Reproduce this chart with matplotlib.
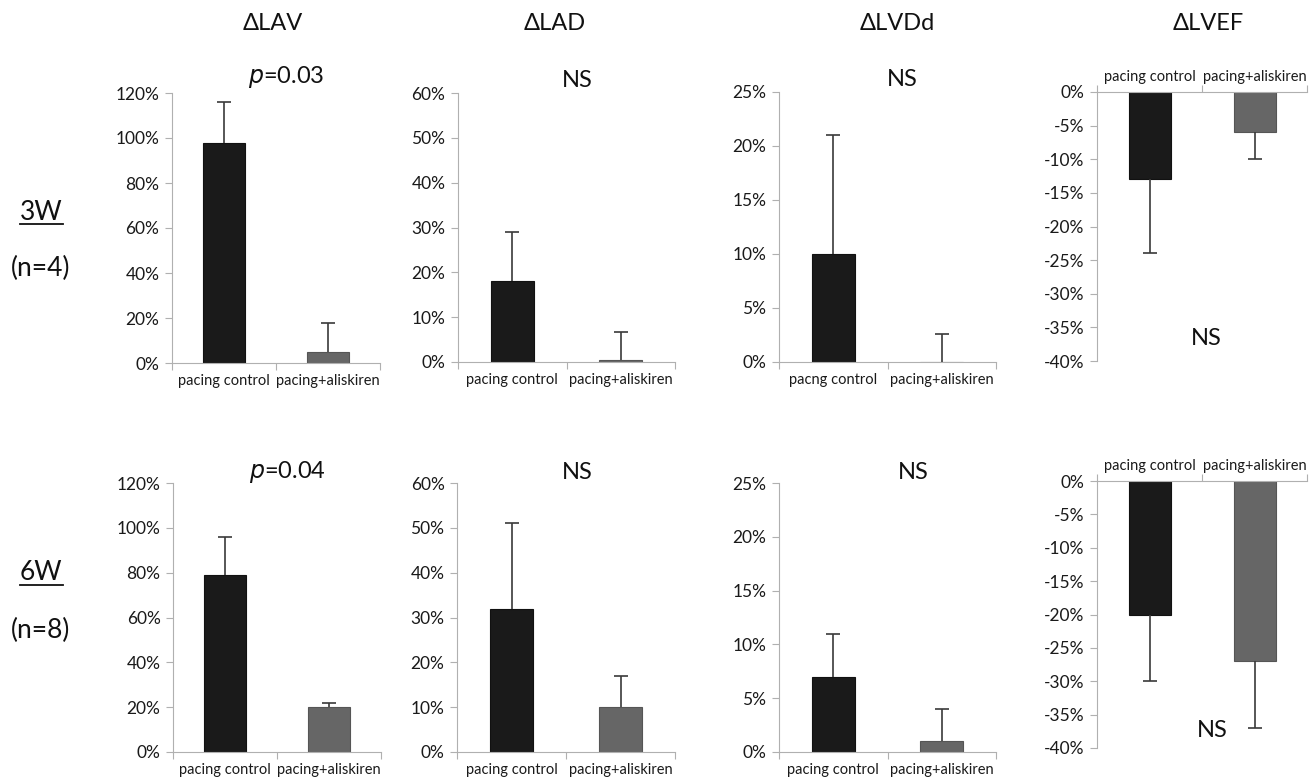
import matplotlib
matplotlib.use("Agg")
import matplotlib.pyplot as plt
import numpy as np
from matplotlib.lines import Line2D

plt.rcParams['font.family'] = ['Lato', 'DejaVu Sans']

groups = ["pacing control", "pacing+aliskiren"]
groups_lvdd_3w = ["pacng control", "pacing+aliskiren"]   # typo kept from the original

# mean change (%) and one-sided SD for each panel
lav_3w = [98, 5]
lav_3w_err = [18, 13]
lad_3w = [18, 0.5]
lad_3w_err = [11, 6.2]
lvdd_3w = [10, 0]
lvdd_3w_err = [11, 2.6]
lvef_3w = [-13, -6]
lvef_3w_err = [11, 4]

lav_6w = [79, 20]
lav_6w_err = [17, 2]
lad_6w = [32, 10]
lad_6w_err = [19, 7]
lvdd_6w = [7, 1]
lvdd_6w_err = [4, 3]
lvef_6w = [-20, -27]
lvef_6w_err = [10, 10]

titles = ["ΔLAV", "ΔLAD", "ΔLVDd", "ΔLVEF"]
stats_3w = ["$p$=0.03", "NS", "NS", "NS"]
stats_6w = ["$p$=0.04", "NS", "NS", "NS"]

W, H = 1316, 782
fig = plt.figure(figsize=(W / 100, H / 100), dpi=100)

bar_colors = ["#1a1a1a", "#666666"]
edge_colors = ["#111111", "#555555"]
spine_col = "#b0b0b0"
err_col = "#3a3a3a"


def px_axes(x0, x1, ytop, ybot):
    return fig.add_axes([x0 / W, (H - ybot) / H, (x1 - x0) / W, (ybot - ytop) / H])


def panel(ax, vals, errs, ylim, step, labels, neg=False, stat=None, stat_pos=None):
    x = np.array([0.5, 1.5])
    vals = np.array(vals, dtype=float)
    errs = np.array(errs, dtype=float)
    ax.bar(x, vals, width=0.4, color=bar_colors, edgecolor=edge_colors, linewidth=0.8, zorder=2)
    # one-sided error bars, cap only at the far end
    ends = vals - errs if neg else vals + errs
    ax.vlines(x, vals, ends, color=err_col, lw=1.2, zorder=3)
    ax.plot(x, ends, ls="none", marker="_", ms=10, mew=1.2, color=err_col, zorder=3)
    ax.set_xlim(0, 2)
    ax.set_ylim(*ylim)
    ticks = np.arange(ylim[0], ylim[1] + step / 2, step)
    ax.set_yticks(ticks)
    ax.set_yticklabels([f"{t:g}%" for t in ticks], fontsize=12.5, color="#1a1a1a")
    ax.set_xticks([0, 1, 2])
    ax.set_xticklabels([])
    ax.set_xticks(x, minor=True)
    ax.set_xticklabels(labels, minor=True, fontsize=10.5, color="#1a1a1a")
    ax.tick_params(axis="x", which="minor", length=0, pad=8)
    ax.tick_params(axis="x", which="major", length=5, color=spine_col)
    ax.tick_params(axis="y", length=5, color=spine_col, pad=4)
    ax.spines["right"].set_visible(False)
    if neg:
        ax.spines["bottom"].set_visible(False)
        ax.xaxis.tick_top()
        ax.tick_params(axis="x", which="minor", length=0, pad=6)
        ax.spines["top"].set_color(spine_col)
    else:
        ax.spines["top"].set_visible(False)
        ax.spines["bottom"].set_color(spine_col)
    ax.spines["left"].set_color(spine_col)
    if stat:
        ax.text(stat_pos[0], stat_pos[1], stat, transform=ax.transAxes,
                ha="center", va="center", fontsize=17, color="#111111")


# top row (3W)
a1 = px_axes(172, 380, 93, 363)
panel(a1, lav_3w, lav_3w_err, (0, 120), 20, groups, stat=stats_3w[0], stat_pos=(0.55, 1.058))
a2 = px_axes(458, 675, 93, 362)
panel(a2, lad_3w, lad_3w_err, (0, 60), 10, groups, stat=stats_3w[1], stat_pos=(0.55, 1.045))
a3 = px_axes(779, 996, 92, 362)
panel(a3, lvdd_3w, lvdd_3w_err, (0, 25), 5, groups_lvdd_3w, stat=stats_3w[2], stat_pos=(0.57, 1.045))
a4 = px_axes(1097, 1307, 92, 361)
panel(a4, lvef_3w, lvef_3w_err, (-40, 0), 5, groups, neg=True, stat=stats_3w[3], stat_pos=(0.52, 0.085))

# bottom row (6W)
b1 = px_axes(173, 381, 483, 752)
panel(b1, lav_6w, lav_6w_err, (0, 120), 20, groups, stat=stats_6w[0], stat_pos=(0.55, 1.04))
b2 = px_axes(457, 675, 483, 752)
panel(b2, lad_6w, lad_6w_err, (0, 60), 10, groups, stat=stats_6w[1], stat_pos=(0.55, 1.04))
b3 = px_axes(779, 996, 483, 752)
panel(b3, lvdd_6w, lvdd_6w_err, (0, 25), 5, groups, stat=stats_6w[2], stat_pos=(0.62, 1.04))
b4 = px_axes(1097, 1307, 481, 748)
panel(b4, lvef_6w, lvef_6w_err, (-40, 0), 5, groups, neg=True, stat=stats_6w[3], stat_pos=(0.55, 0.067))

# column titles
for t, cx in zip(titles, [273, 555, 897, 1208]):
    fig.text(cx / W, 1 - 24 / H, t, ha="center", va="center", fontsize=17, color="#111111")

# row labels
for lab, n, y1, y2 in [("3W", "(n=4)", 212, 268), ("6W", "(n=8)", 573, 630)]:
    fig.text(41 / W, 1 - y1 / H, lab, ha="center", va="center", fontsize=19, color="#111111")
    fig.text(41 / W, 1 - y2 / H, n, ha="center", va="center", fontsize=19, color="#111111")
    uy = 1 - (y1 + 12) / H
    fig.add_artist(Line2D([20 / W, 63 / W], [uy, uy], color="#111111", lw=1.3))

fig.savefig("out.png", dpi=100, facecolor="white")
